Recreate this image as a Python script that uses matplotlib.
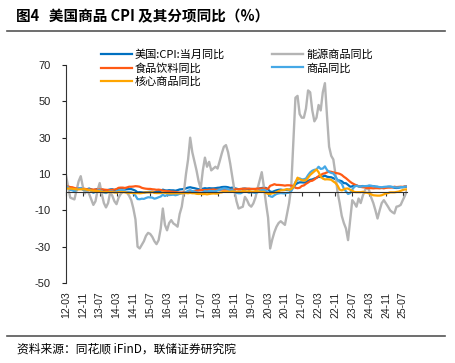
import matplotlib
matplotlib.use("Agg")
import matplotlib.pyplot as plt
import numpy as np

# monthly data, 2012-03 .. 2025-09
cpi = [2.7, 2.3, 1.7, 1.7, 1.4, 1.7, 2.0, 2.2, 1.8, 1.7,
       1.6, 2.0, 1.5, 1.1, 1.4, 1.8, 2.0, 1.5, 1.2, 1.0, 1.2, 1.5,
       1.6, 1.1, 1.5, 2.0, 2.1, 2.1, 2.0, 1.7, 1.7, 1.7, 1.3, 0.8,
       -0.1, 0.0, -0.1, -0.2, 0.0, 0.1, 0.2, 0.2, 0.0, 0.2, 0.5, 0.7,
       1.4, 1.0, 0.9, 1.1, 1.0, 1.0, 0.8, 1.1, 1.5, 1.6, 1.7, 2.1,
       2.5, 2.7, 2.4, 2.2, 1.9, 1.6, 1.7, 1.9, 2.2, 2.0, 2.2, 2.1,
       2.1, 2.2, 2.4, 2.5, 2.8, 2.9, 2.9, 2.7, 2.3, 2.5, 2.2, 1.9,
       1.6, 1.5, 1.9, 2.0, 1.8, 1.6, 1.8, 1.7, 1.7, 1.8, 2.1, 2.3,
       2.5, 2.3, 1.5, 0.3, 0.1, 0.6, 1.0, 1.3, 1.4, 1.2, 1.2, 1.4,
       1.4, 1.7, 2.6, 4.2, 5.0, 5.4, 5.4, 5.3, 5.4, 6.2, 6.8, 7.0,
       7.5, 7.9, 8.5, 8.3, 8.6, 9.1, 8.5, 8.3, 8.2, 7.7, 7.1, 6.5,
       6.4, 6.0, 5.0, 4.9, 4.0, 3.0, 3.2, 3.7, 3.7, 3.2, 3.1, 3.4,
       3.1, 3.2, 3.5, 3.4, 3.3, 3.0, 2.9, 2.5, 2.4, 2.6, 2.7, 2.9,
       3.0, 2.8, 2.4, 2.3, 2.4, 2.7, 2.7, 2.9, 3.0]

energy = [9.4, 3.0, -3.0, -3.5, -4.0, 1.0, 6.0, 8.8, 3.0, -0.7,
          1.1, -1.0, -4.0, -7.0, -5.0, 1.0, 5.0, -1.0, -6.0, -8.4, -6.0, 0.0,
          -2.0, -5.0, -6.6, -3.0, -1.0, 0.2, 0.0, -0.4, -2.0, -4.4, -9.0, -15.0,
          -30.0, -31.0, -29.0, -27.0, -24.0, -22.4, -23.0, -24.6, -27.0, -28.6, -26.4, -20.0,
          -9.0, -18.0, -21.0, -17.0, -15.4, -17.2, -18.0, -19.0, -12.0, -8.0, 0.0, 10.0,
          18.0, 30.0, 22.0, 17.0, 12.0, 6.0, 2.0, 12.0, 19.0, 14.0, 16.7, 12.0,
          13.0, 14.0, 13.0, 17.0, 21.3, 25.0, 25.9, 22.0, 15.8, 8.4, 1.1, -5.0,
          -9.0, -8.5, -8.0, -2.6, -4.4, -7.0, -8.0, -6.2, -3.0, 2.0, 6.6, 11.0,
          3.0, -6.0, -14.0, -31.0, -26.0, -22.0, -19.0, -17.0, -16.0, -17.0, -18.0, -12.0,
          -6.0, 3.0, 28.0, 52.0, 53.0, 43.0, 41.0, 41.0, 46.0, 56.0, 55.0, 45.0,
          39.0, 41.0, 48.0, 45.0, 55.0, 60.0, 42.0, 25.0, 20.0, 18.0, 10.0, 0.0,
          -6.0, -13.0, -17.0, -20.0, -26.4, -15.4, -4.4, -6.0, -8.0, -3.5, -6.0, -2.0,
          1.0, 2.9, 1.0, -3.0, -6.0, -10.0, -14.5, -10.0, -6.0, -4.4, -6.2, -8.0,
          -10.0, -11.0, -11.7, -8.0, -7.7, -7.0, -4.4, -2.0, 1.1]

food = [3.2, 3.1, 2.8, 2.7, 2.3, 2.0, 1.9, 1.8, 1.8, 1.8,
        1.6, 1.6, 1.5, 1.4, 1.5, 1.4, 1.4, 1.5, 1.4, 1.3, 1.2, 1.1,
        1.3, 1.4, 1.7, 2.4, 2.5, 2.5, 2.3, 2.6, 3.0, 3.0, 3.1, 3.3,
        3.2, 3.0, 2.4, 2.1, 1.9, 1.8, 1.8, 1.6, 1.5, 1.3, 1.4, 1.2,
        0.8, 0.7, 0.5, 0.5, 0.3, 0.2, 0.1, -0.1, -0.2, -0.2, -0.1, -0.1,
        0.0, 0.3, 0.4, 0.5, 0.8, 0.9, 1.1, 1.2, 1.1, 1.2, 1.3, 1.3,
        1.5, 1.3, 1.3, 1.3, 1.4, 1.4, 1.4, 1.4, 1.4, 1.2, 1.4, 1.6,
        1.6, 1.8, 1.9, 1.9, 1.9, 2.0, 1.7, 1.8, 1.8, 2.0, 2.0, 2.0,
        2.1, 1.9, 1.9, 3.5, 3.9, 4.4, 4.0, 4.0, 3.9, 3.8, 3.6, 3.8,
        3.8, 3.6, 3.5, 2.4, 2.2, 2.4, 3.4, 3.7, 4.6, 5.3, 6.1, 6.3,
        7.0, 7.9, 8.8, 9.4, 10.1, 10.4, 10.9, 11.4, 11.2, 10.9, 10.6, 10.4,
        10.1, 9.5, 8.5, 7.7, 6.7, 5.7, 4.9, 4.3, 3.7, 3.3, 2.9, 2.7,
        2.6, 2.2, 2.2, 2.2, 2.1, 2.2, 2.2, 2.1, 2.3, 2.1, 2.4, 2.5,
        2.5, 2.6, 3.0, 2.8, 2.9, 3.0, 2.9, 3.2, 3.1]

goods = [3.3, 2.6, 1.3, 1.0, 0.5, 1.2, 2.1, 2.3, 1.3, 1.1,
         1.0, 1.5, 0.6, -0.4, 0.2, 0.9, 1.1, 0.4, -0.2, -0.5, 0.1, 0.4,
         0.4, -0.1, 0.4, 0.9, 1.0, 1.0, 0.6, 0.2, 0.0, -0.1, -0.7, -1.9,
         -3.8, -3.9, -3.6, -3.7, -3.2, -2.8, -2.9, -3.0, -3.6, -3.3, -2.8, -2.4,
         -1.4, -2.1, -1.6, -1.6, -1.5, -1.4, -1.7, -1.4, -0.9, -0.6, -0.4, 0.0,
         0.8, 1.1, 0.6, 0.3, -0.1, -0.4, -0.3, -0.1, 0.6, 0.3, 0.7, 0.6,
         0.5, 0.5, 0.9, 1.2, 1.8, 2.1, 2.0, 1.7, 1.0, 1.2, 0.5, -0.4,
         -0.6, -0.6, 0.0, 0.5, 0.2, -0.3, 0.0, -0.2, -0.4, -0.1, 0.6, 1.1,
         1.3, 0.7, -0.6, -2.3, -2.6, -1.7, -1.0, -0.7, -0.5, -0.6, -0.7, -0.4,
         -0.3, 0.6, 2.6, 5.5, 6.7, 7.6, 7.0, 7.1, 7.5, 9.4, 10.9, 11.8,
         12.3, 12.5, 14.0, 12.8, 13.0, 14.2, 12.2, 11.1, 10.6, 10.3, 8.7, 6.8,
         5.6, 4.7, 2.0, 0.5, -1.0, -0.5, 1.5, 3.0, 3.5, 3.2, 3.0, 3.3,
         3.3, 3.4, 3.6, 3.5, 3.3, 3.1, 3.0, 2.8, 2.7, 2.9, 3.0, 3.1,
         3.0, 2.9, 2.7, 2.6, 2.6, 2.8, 2.8, 3.0, 3.1]

core_goods = [2.0, 2.0, 2.0, 1.9, 1.7, 1.6, 1.5, 1.6, 1.6, 1.6,
              1.3, 1.1, 0.9, 0.8, 0.7, 0.6, 0.5, 0.2, 0.0, 0.1, 0.0, 0.1,
              0.0, -0.1, -0.3, 0.1, 0.1, 0.0, 0.0, -0.3, -0.5, -0.4, -0.4, -0.6,
              -0.5, -0.6, -0.5, -0.3, -0.1, -0.1, -0.2, 0.0, -0.4, -0.5, -0.5, -0.5,
              -0.2, -0.4, -0.5, -0.6, -0.7, -0.6, -0.6, -0.6, -0.6, -0.6, -0.5, -0.5,
              -0.6, -0.4, -0.6, -0.6, -0.9, -1.0, -0.9, -1.1, -1.0, -1.2, -1.0, -0.8,
              -0.7, -0.8, -0.8, -0.2, -0.1, 0.3, 0.2, 0.2, 0.2, 0.4, 0.3, 0.1,
              0.3, 0.2, 0.6, 0.5, 0.3, 0.6, 0.3, 0.2, 0.6, 0.5, 0.3, 0.1,
              0.2, -0.5, -0.9, -1.0, -0.6, -0.4, 0.0, 0.6, 1.0, 1.1, 1.3, 1.7,
              1.3, 1.7, 2.9, 5.5, 8.0, 7.1, 6.6, 6.4, 6.6, 8.0, 9.5, 10.5,
              11.5, 12.5, 11.0, 8.5, 7.5, 7.0, 7.1, 7.0, 6.8, 5.9, 5.1, 3.7,
              1.4, 1.0, 1.5, 2.0, 2.0, 1.3, 0.8, 0.1, 0.0, 0.0, 0.0, 0.2,
              -0.3, -0.3, -0.7, -1.2, -1.7, -1.8, -1.9, -1.9, -1.7, -1.2, -0.7, -0.5,
              -0.1, -0.1, -0.1, 0.1, 0.3, 0.7, 1.2, 1.5, 1.5]

tick_labels = ['12-03', '12-11', '13-07', '14-03', '14-11', '15-07', '16-03',
               '16-11', '17-07', '18-03', '18-11', '19-07', '20-03', '20-11',
               '21-07', '22-03', '22-11', '23-07', '24-03', '24-11', '25-07']

cjk = ['Noto Sans CJK SC', 'DejaVu Sans']
plt.rcParams['font.family'] = ['Liberation Sans', 'Noto Sans CJK SC']
plt.rcParams['axes.unicode_minus'] = False

fig = plt.figure(figsize=(4.55, 3.63), dpi=100)
ax = fig.add_axes([66 / 455, 1 - 283 / 363, 341 / 455, 218 / 363])

x = np.arange(len(cpi))
l1, = ax.plot(x, cpi, color='#0070C0', lw=1.6, label='美国:CPI:当月同比')
l2, = ax.plot(x, energy, color='#B4B4B4', lw=1.7, label='能源商品同比')
l3, = ax.plot(x, food, color='#FF5A14', lw=1.6, label='食品饮料同比')
l4, = ax.plot(x, goods, color='#45A8E6', lw=1.6, label='商品同比')
l5, = ax.plot(x, core_goods, color='#FFA500', lw=1.6, label='核心商品同比')

ax.set_xlim(0, len(cpi) - 1)
ax.set_ylim(-50, 70)
ax.set_yticks(range(-50, 71, 20))
ax.tick_params(axis='y', labelsize=8, length=3, width=0.8, pad=8, colors='#222222')

ax.spines['top'].set_visible(False)
ax.spines['right'].set_visible(False)
ax.spines['bottom'].set_position(('data', 0))
ax.spines['left'].set_color('#333333')
ax.spines['bottom'].set_color('#333333')

tick_pos = list(range(0, len(cpi), 8))[:len(tick_labels)]
ax.set_xticks(tick_pos)
ax.tick_params(axis='x', labelbottom=False, length=3, width=0.8, color='#333333')
for p, lab in zip(tick_pos, tick_labels):
    ax.text(p, -0.04, lab, transform=ax.get_xaxis_transform(), rotation=90,
            ha='center', va='top', fontsize=7.5, color='#222222')

fig.legend([l1, l3, l5, l2, l4],
           [l1.get_label(), l3.get_label(), l5.get_label(), l2.get_label(), l4.get_label()],
           ncol=2, loc='upper left', bbox_to_anchor=(95 / 455, 1 - 44 / 363),
           frameon=False, prop={'family': cjk, 'size': 8}, handlelength=2.8,
           handletextpad=0.3, labelspacing=0.25, columnspacing=4.2, borderpad=0)

fig.text(16 / 455, 1 - 16 / 363, '图4   美国商品 CPI 及其分项同比（%）',
         fontsize=10.5, fontweight='bold', family=cjk, va='center', ha='left')
fig.add_artist(plt.Line2D([7 / 455, 445 / 455], [1 - 31 / 363, 1 - 31 / 363],
                          color='#555555', lw=1.2))
fig.add_artist(plt.Line2D([7 / 455, 445 / 455], [1 - 336 / 363, 1 - 336 / 363],
                          color='#555555', lw=1.2))
fig.text(17 / 455, 1 - 349 / 363, '资料来源：同花顺 iFinD，联储证券研究院',
         fontsize=8.5, family=cjk, va='center', ha='left')

fig.savefig('out.png', dpi=100)
